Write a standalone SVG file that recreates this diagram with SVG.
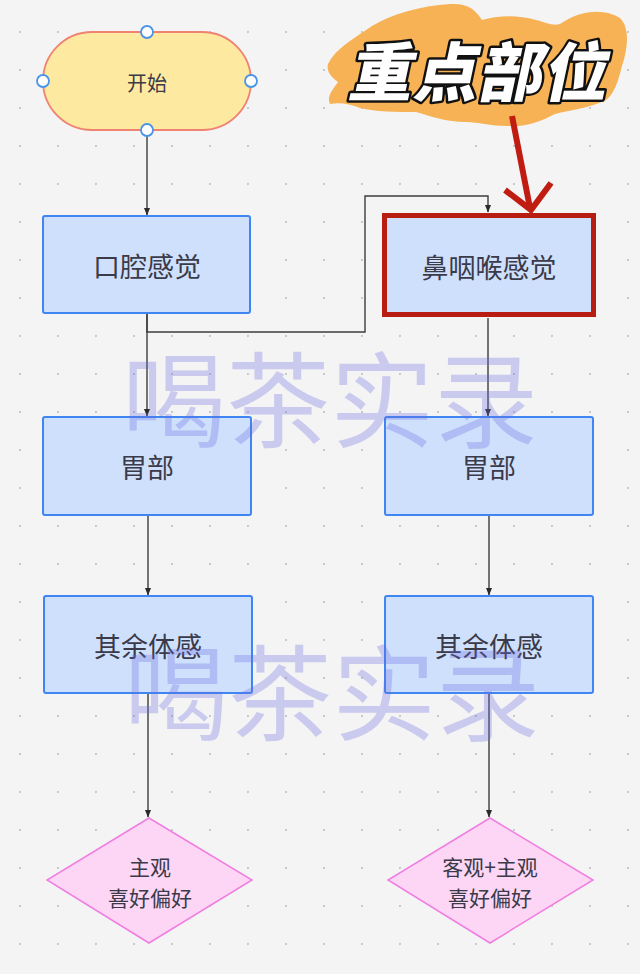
<svg xmlns="http://www.w3.org/2000/svg" width="640" height="974" viewBox="0 0 640 974">
<defs>
<pattern id="grid" x="19" y="31" width="38" height="38" patternUnits="userSpaceOnUse">
<circle cx="1" cy="1" r="1.1" fill="#c4c4c6"/>
</pattern>
<marker id="arr" viewBox="0 0 8 8" refX="7.5" refY="4" markerWidth="8" markerHeight="8" markerUnits="userSpaceOnUse" orient="auto">
<path d="M0,0.8 L8,4 L0,7.2 Z" fill="#2a2a2a"/>
</marker>
<style>
.box{fill:#cfe0fd;stroke:#3f86f2;stroke-width:2}
.lbl{font-family:"Noto Sans CJK SC","Noto Sans",sans-serif;fill:#3a3a48;text-anchor:middle;dominant-baseline:central}
.big{font-size:27px}
.dia{fill:#fdd6f6;stroke:#f07ee0;stroke-width:1.5}
.conn{fill:none;stroke:#3c3c3c;stroke-width:1.4}
.handle{fill:#ffffff;stroke:#4a94ea;stroke-width:1.8}
.wm{font-family:"Noto Sans CJK SC","Noto Sans",sans-serif;font-size:104px;fill:#6a6ae2;fill-opacity:0.3;text-anchor:middle;dominant-baseline:central}
</style>
</defs>
<rect width="640" height="974" fill="#f4f4f5"/>
<rect width="640" height="974" fill="url(#grid)"/>

<g id="title">
<path d="M328,64 C336,48 352,40 372,26 C392,14 420,6 450,4 C468,3 476,10 482,20 C496,16 516,14 536,20 C548,23 552,26 560,24 C580,10 604,8 620,18 C630,28 628,48 622,66 C618,82 614,94 606,100 C590,108 570,110 555,114 C540,122 526,127 508,126 C490,126 478,122 466,122 C446,122 430,116 416,112 C396,112 376,112 360,108 C350,104 340,102 330,104 C326,96 334,88 338,82 C332,78 326,72 328,64 Z" fill="#f6b255"/>
<text class="lbl" transform="translate(483,68) skewX(-12)" x="0" y="0" style="font-size:64px;font-weight:900;fill:#ffffff;stroke:#111111;stroke-width:5;paint-order:stroke fill;stroke-linejoin:round;letter-spacing:1px">重点部位</text>
<path d="M512,116 L530,208" fill="none" stroke="#c01c12" stroke-width="6"/>
<path d="M505,190 L531,210 L551,183" fill="none" stroke="#c01c12" stroke-width="6" stroke-linejoin="miter"/>
</g>

<g id="connectors">
<path class="conn" d="M147,136 L147,215" marker-end="url(#arr)"/>
<path class="conn" d="M147,314 L147,416" marker-end="url(#arr)"/>
<path class="conn" d="M147,314 L147,332 L365,332 L365,196 L488,196 L488,212" marker-end="url(#arr)"/>
<path class="conn" d="M488,318 L488,416" marker-end="url(#arr)"/>
<path class="conn" d="M148,516 L148,595" marker-end="url(#arr)"/>
<path class="conn" d="M489,516 L489,595" marker-end="url(#arr)"/>
<path class="conn" d="M148,694 L148,817" marker-end="url(#arr)"/>
<path class="conn" d="M489,694 L489,817" marker-end="url(#arr)"/>
</g>

<g id="start">
<rect x="43" y="32" width="208" height="98" rx="49" fill="#fde9a0" stroke="#f08272" stroke-width="1.8"/>
<text class="lbl" x="147" y="82" style="font-size:20px">开始</text>
<circle class="handle" cx="147" cy="32" r="6"/>
<circle class="handle" cx="43" cy="81" r="6"/>
<circle class="handle" cx="251" cy="81" r="6"/>
<circle class="handle" cx="147" cy="130" r="6"/>
</g>

<g id="oral">
<rect class="box" x="43" y="216" width="207" height="97" rx="2"/>
<text class="lbl big" x="147" y="265">口腔感觉</text>
</g>

<g id="nasal">
<rect x="384.5" y="215.5" width="209" height="99" fill="#cfe0fd" stroke="#b81d12" stroke-width="5"/>
<text class="lbl big" x="489" y="266">鼻咽喉感觉</text>
</g>

<g id="stomach-left">
<rect class="box" x="43" y="417" width="208" height="98" rx="2"/>
<text class="lbl big" x="147" y="466">胃部</text>
</g>

<g id="stomach-right">
<rect class="box" x="385" y="417" width="208" height="98" rx="2"/>
<text class="lbl big" x="489" y="466">胃部</text>
</g>

<g id="body-left">
<rect class="box" x="44" y="596" width="208" height="97" rx="2"/>
<text class="lbl big" x="148" y="645">其余体感</text>
</g>

<g id="body-right">
<rect class="box" x="385" y="596" width="208" height="97" rx="2"/>
<text class="lbl big" x="489" y="645">其余体感</text>
</g>

<g id="pref-left">
<path class="dia" d="M149,818 L252,880 L149,943 L47,880 Z"/>
<text class="lbl" x="150" y="866" style="font-size:21px">主观</text>
<text class="lbl" x="150" y="897" style="font-size:21px">喜好偏好</text>
</g>

<g id="pref-right">
<path class="dia" d="M490,818 L593,880 L490,943 L388,880 Z"/>
<text class="lbl" x="490" y="866" style="font-size:21px">客观+主观</text>
<text class="lbl" x="490" y="897" style="font-size:21px">喜好偏好</text>
</g>

<g id="watermark">
<text class="wm" x="330" y="394">喝茶实录</text>
<text class="wm" x="332" y="687">喝茶实录</text>
</g>
</svg>
